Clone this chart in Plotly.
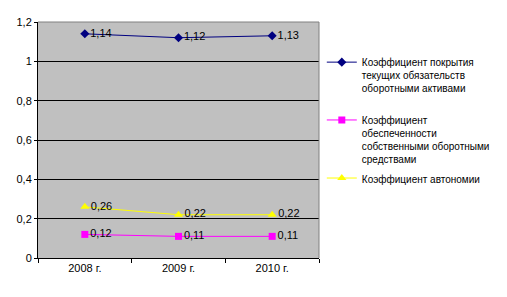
import plotly.graph_objects as go

categories = ["2008 г.", "2009 г.", "2010 г."]
s1_name = "Коэффициент покрытия<br>текущих обязательств<br>оборотными активами"
s2_name = "Коэффициент<br>обеспеченности<br>собственными оборотными<br>средствами"
s3_name = "Коэффициент автономии"
s1 = [1.14, 1.12, 1.13]
s2 = [0.12, 0.11, 0.11]
s3 = [0.26, 0.22, 0.22]
yticks = [0, 0.2, 0.4, 0.6, 0.8, 1.0, 1.2]

FONT = "Liberation Sans, Arial, sans-serif"

def fmt(v):
    return f"{v:.2f}".replace(".", ",")

fig = go.Figure()
specs = [
    (s1, s1_name, "#000080", "diamond", 7, "legend"),
    (s2, s2_name, "#FF00FF", "square", 7, "legend2"),
    (s3, s3_name, "#FFFF00", "triangle-up", 8, "legend3"),
]
for vals, name, color, sym, size, lg in specs:
    fig.add_trace(go.Scatter(
        x=categories, y=vals, name=name,
        mode="lines+markers+text",
        text=[fmt(v) for v in vals], textposition="middle right",
        textfont=dict(family=FONT, size=11, color="black"),
        line=dict(color=color, width=1),
        marker=dict(symbol=sym, size=size, color=color),
        legend=lg, cliponaxis=False, showlegend=True,
    ))

legend_common = dict(font=dict(family=FONT, size=10, color="black"),
                     bgcolor="rgba(0,0,0,0)", itemwidth=30, valign="top",
                     xanchor="left", yanchor="top", x=1.01)
fig.update_layout(
    width=507, height=297,
    margin=dict(l=38, r=180, t=22, b=39),
    paper_bgcolor="white", plot_bgcolor="#C0C0C0",
    separators=", ",
    showlegend=True,
    font=dict(family=FONT, size=11, color="black"),
    legend=dict(**legend_common, y=0.885),
    legend2=dict(**legend_common, y=0.64),
    legend3=dict(**legend_common, y=0.394),
    xaxis=dict(type="category", range=[-0.5, 2.5], showline=True, linecolor="black",
               linewidth=1, ticks="outside", tickson="boundaries", ticklen=4,
               tickcolor="black", showgrid=False, fixedrange=True,
               tickfont=dict(family=FONT, size=11, color="black")),
    yaxis=dict(range=[0, 1.2], tickvals=yticks, showline=True, linecolor="black",
               linewidth=1, ticks="outside", ticklen=3, tickcolor="black",
               gridcolor="black", gridwidth=1, zeroline=False, fixedrange=True,
               tickfont=dict(family=FONT, size=11, color="black")),
    shapes=[
        dict(type="line", xref="paper", yref="paper", x0=0, x1=1, y0=1, y1=1,
             line=dict(color="#808080", width=1), layer="above"),
        dict(type="line", xref="paper", yref="paper", x0=1, x1=1, y0=0, y1=1,
             line=dict(color="#808080", width=1), layer="above"),
    ],
)
fig.write_html("out.html")
